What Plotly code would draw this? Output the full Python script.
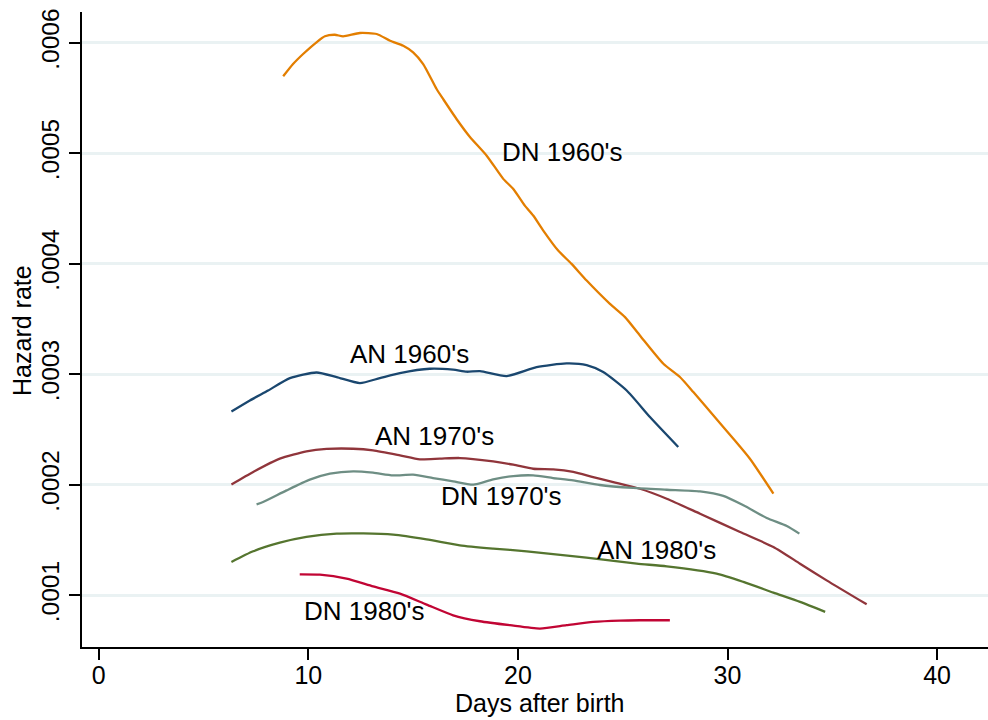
import plotly.graph_objects as go

# ---- data ----
dn60_x = [8.80, 9.27, 9.75, 10.39, 10.79, 11.26, 11.66, 12.46, 13.26, 13.90, 14.53, 15.00, 15.48, 16.12, 16.43,
          17.07, 17.71, 18.51, 19.30, 19.78, 20.33, 20.73, 21.21, 21.92, 22.56, 23.28, 24.39, 25.11, 25.82,
          26.94, 27.73, 28.37, 29.32, 30.28, 31.07, 32.19]
dn60_y = [5.696, 5.807, 5.898, 6.004, 6.058, 6.072, 6.058, 6.088, 6.079, 6.018, 5.973, 5.913, 5.807, 5.581, 5.491,
          5.310, 5.147, 4.978, 4.768, 4.677, 4.526, 4.436, 4.300, 4.119, 3.999, 3.848, 3.637, 3.517, 3.351,
          3.095, 2.975, 2.839, 2.628, 2.417, 2.236, 1.920]

an60_x = [6.33, 7.21, 8.08, 9.12, 10.39, 11.35, 12.46, 13.41, 14.37, 15.80, 16.91, 17.55, 18.19, 19.46, 20.89,
          22.32, 23.28, 24.07, 25.19, 26.30, 27.65]
an60_y = [2.663, 2.763, 2.853, 2.965, 3.016, 2.974, 2.920, 2.965, 3.011, 3.050, 3.041, 3.023, 3.029, 2.984, 3.065,
          3.098, 3.083, 3.020, 2.853, 2.613, 2.342]

an70_x = [6.33, 7.37, 8.64, 9.91, 10.87, 12.14, 13.09, 14.37, 15.32, 16.28, 17.23, 18.82, 19.78, 20.73, 21.68,
          22.64, 23.59, 24.55, 25.82, 27.10, 28.69, 30.60, 32.19, 33.46, 34.73, 36.64]
an70_y = [2.003, 2.116, 2.236, 2.302, 2.324, 2.326, 2.311, 2.266, 2.230, 2.236, 2.242, 2.211, 2.182, 2.145, 2.139,
          2.116, 2.070, 2.025, 1.964, 1.874, 1.738, 1.573, 1.437, 1.286, 1.135, 0.918]

dn70_x = [7.53, 7.84, 8.96, 10.07, 11.03, 12.14, 13.09, 14.04, 15.00, 15.95, 16.91, 17.87, 18.82, 19.78, 20.73,
          21.68, 22.64, 23.91, 25.50, 27.10, 28.69, 29.80, 30.76, 31.87, 32.83, 33.43]
dn70_y = [1.823, 1.844, 1.949, 2.046, 2.100, 2.121, 2.109, 2.085, 2.091, 2.061, 2.031, 2.001, 2.049, 2.079, 2.085,
          2.061, 2.040, 1.998, 1.971, 1.955, 1.940, 1.899, 1.814, 1.700, 1.627, 1.558]

an80_x = [6.33, 7.37, 8.64, 9.91, 11.35, 12.62, 14.05, 15.64, 17.23, 18.82, 20.42, 22.48, 24.07, 25.67, 27.10,
          29.48, 30.76, 32.19, 33.46, 34.66]
an80_y = [1.302, 1.398, 1.476, 1.528, 1.558, 1.560, 1.549, 1.506, 1.452, 1.422, 1.398, 1.356, 1.323, 1.286, 1.262,
          1.196, 1.121, 1.024, 0.940, 0.850]

dn80_x = [9.59, 10.55, 11.82, 13.09, 14.37, 15.64, 16.91, 18.19, 19.62, 21.05, 22.32, 23.59, 24.87, 25.82, 27.25]
dn80_y = [1.190, 1.187, 1.151, 1.081, 1.015, 0.916, 0.819, 0.765, 0.729, 0.699, 0.729, 0.759, 0.771, 0.774, 0.774]

SCALE = 1e-4  # values above are in units of 1e-4

x_ticks = [0, 10, 20, 30, 40]
y_ticks = [0.0001, 0.0002, 0.0003, 0.0004, 0.0005, 0.0006]
y_ticktext = [".0001", ".0002", ".0003", ".0004", ".0005", ".0006"]

x_title = "Days after birth"
y_title = "Hazard rate"

labels = ["DN 1960's", "AN 1960's", "AN 1970's", "DN 1970's", "AN 1980's", "DN 1980's"]
label_x = [22.15, 14.85, 16.04, 19.24, 26.59, 12.70]
label_y = [5.012, 3.185, 2.444, 1.901, 1.413, 0.862]

series = [
    (an60_x, an60_y, "#1A476F", "AN 1960's"),
    (an70_x, an70_y, "#90353B", "AN 1970's"),
    (dn70_x, dn70_y, "#6E8E84", "DN 1970's"),
    (an80_x, an80_y, "#55752F", "AN 1980's"),
    (dn80_x, dn80_y, "#C10534", "DN 1980's"),
    (dn60_x, dn60_y, "#E37E00", "DN 1960's"),
]

FONT = "Arial, Liberation Sans, sans-serif"

fig = go.Figure()
for xs, ys, col, name in series:
    fig.add_trace(go.Scatter(
        x=xs, y=[v * SCALE for v in ys], mode="lines", name=name,
        line=dict(color=col, width=2.3, shape="spline", smoothing=0.6),
        showlegend=False,
    ))

for txt, lx, ly in zip(labels, label_x, label_y):
    fig.add_annotation(x=lx, y=ly * SCALE, text=txt, showarrow=False,
                       font=dict(family=FONT, size=26, color="black"),
                       xanchor="center", yanchor="middle")

# axis titles placed as paper-referenced text
fig.add_annotation(xref="paper", yref="paper", x=0.505, y=-0.088, text=x_title, showarrow=False,
                   font=dict(family=FONT, size=25, color="black"), xanchor="center", yanchor="middle")
fig.add_annotation(xref="paper", yref="paper", x=-0.066, y=0.498, text=y_title, showarrow=False,
                   textangle=-90, font=dict(family=FONT, size=25, color="black"),
                   xanchor="center", yanchor="middle")

fig.update_layout(
    width=988, height=720,
    margin=dict(l=82, r=0, t=12, b=73),
    paper_bgcolor="white", plot_bgcolor="white",
    font=dict(family=FONT, size=24, color="black"),
    xaxis=dict(
        range=[-0.80, 42.43], tickvals=x_ticks, ticks="outside", ticklen=11, tickwidth=1.5,
        tickcolor="black", showline=True, linecolor="black", linewidth=2, showgrid=False,
        zeroline=False, tickfont=dict(size=25), automargin=False, ticklabelstandoff=-6,
    ),
    yaxis=dict(
        range=[0.0000532, 0.0006278], tickvals=y_ticks, ticktext=y_ticktext, tickangle=-90,
        ticks="outside", ticklen=11, tickwidth=1.5, tickcolor="black",
        showline=True, linecolor="black", linewidth=2,
        showgrid=True, gridcolor="#EAF2F3", gridwidth=2.5, zeroline=False,
        tickfont=dict(size=24.5), automargin=False,
    ),
)

fig.write_html("out.html",
               config={"displayModeBar": False},
               post_script="document.body.style.margin='0';document.body.style.padding='0';"
                           "document.body.style.overflow='hidden';")
